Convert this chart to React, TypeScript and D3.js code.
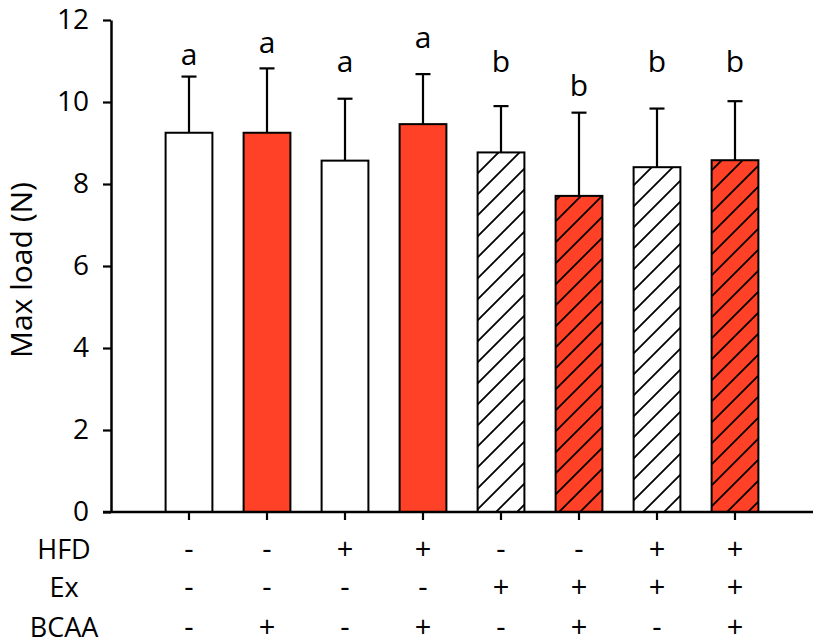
import React, { useRef, useEffect } from 'react';
import * as d3 from 'd3';

// groups (HFD / Ex / BCAA)
const hfd = ['-', '-', '+', '+', '-', '-', '+', '+'];
const ex = ['-', '-', '-', '-', '+', '+', '+', '+'];
const bcaa = ['-', '+', '-', '+', '-', '+', '-', '+'];
const groups = hfd.map((h, i) => `${h}${ex[i]}${bcaa[i]}`);

const means = [9.25, 9.25, 8.57, 9.46, 8.77, 7.71, 8.41, 8.58];
const sds = [1.37, 1.57, 1.51, 1.22, 1.13, 2.03, 1.43, 1.44];
const letters = ['a', 'a', 'a', 'a', 'b', 'b', 'b', 'b'];
const letterAt = [10.9, 11.2, 10.74, 11.32, 10.74, 10.15, 10.74, 10.74];
const yTicks = [0, 2, 4, 6, 8, 10, 12];
const rowNames = ['HFD', 'Ex', 'BCAA'];
const rows = [hfd, ex, bcaa];

const RED = '#ff4127';
const FONT = '"Open Sans", sans-serif';

const App = () => {
  const svgRef = useRef<SVGSVGElement>(null);

  useEffect(() => {
    const svg = d3.select(svgRef.current);
    svg.selectAll('*').remove();

    const x = d3.scaleBand().domain(groups).range([111, 813]).paddingInner(0.4).paddingOuter(0.7);
    const y = d3.scaleLinear().domain([0, 12]).range([512, 20]);

    const defs = svg.append('defs');
    const pat = defs.append('pattern')
      .attr('id', 'hatch')
      .attr('patternUnits', 'userSpaceOnUse')
      .attr('width', 21)
      .attr('height', 21);
    pat.append('path')
      .attr('d', 'M0,21L21,0M-5,5L5,-5M16,26L26,16')
      .attr('stroke', '#000')
      .attr('stroke-width', 1.8);

    const g = svg.append('g');

    // bars
    groups.forEach((k, i) => {
      const fill = bcaa[i] === '+' ? RED : '#fff';
      const x0 = x(k)!;
      const w = x.bandwidth();
      g.append('rect')
        .attr('x', x0).attr('y', y(means[i]))
        .attr('width', w).attr('height', y(0) - y(means[i]))
        .attr('fill', fill);
      if (ex[i] === '+') {
        g.append('rect')
          .attr('x', x0).attr('y', y(means[i]))
          .attr('width', w).attr('height', y(0) - y(means[i]))
          .attr('fill', 'url(#hatch)');
      }
      g.append('rect')
        .attr('x', x0).attr('y', y(means[i]))
        .attr('width', w).attr('height', y(0) - y(means[i]))
        .attr('fill', 'none')
        .attr('stroke', '#000')
        .attr('stroke-width', 2);

      const cx = x0 + w / 2;
      const top = y(means[i] + sds[i]);
      g.append('line')
        .attr('x1', cx).attr('x2', cx)
        .attr('y1', y(means[i])).attr('y2', top)
        .attr('stroke', '#000').attr('stroke-width', 2.2);
      g.append('line')
        .attr('x1', cx - 7.5).attr('x2', cx + 7.5)
        .attr('y1', top).attr('y2', top)
        .attr('stroke', '#000').attr('stroke-width', 2.2);

      g.append('text')
        .attr('x', cx).attr('y', y(letterAt[i]))
        .attr('text-anchor', 'middle')
        .style('font-family', FONT)
        .style('font-size', '30px')
        .text(letters[i]);
    });

    // y axis
    const yAxis = d3.axisLeft(y).tickValues(yTicks).tickSize(8).tickSizeOuter(0).tickPadding(14);
    const ya = svg.append('g').attr('transform', 'translate(111,0)').call(yAxis);
    ya.select('.domain').attr('stroke-width', 2.5);
    ya.selectAll('.tick line').attr('stroke-width', 2.2);
    ya.selectAll('.tick text')
      .style('font-family', FONT)
      .style('font-size', '28px')
      .attr('fill', '#000');

    // x axis
    const [r0, r1] = x.range();
    svg.append('line')
      .attr('x1', r0 - 8).attr('x2', r1)
      .attr('y1', y(0)).attr('y2', y(0))
      .attr('stroke', '#000').attr('stroke-width', 2.5);
    groups.forEach((k) => {
      const cx = x(k)! + x.bandwidth() / 2;
      svg.append('line')
        .attr('x1', cx).attr('x2', cx)
        .attr('y1', y(0)).attr('y2', y(0) + 8)
        .attr('stroke', '#000').attr('stroke-width', 2.2);
    });

    // condition rows
    const rowY = [559, 597, 637];
    rows.forEach((row, r) => {
      svg.append('text')
        .attr('x', 64).attr('y', rowY[r])
        .attr('text-anchor', 'middle')
        .style('font-family', FONT)
        .style('font-size', '27px')
        .text(rowNames[r]);
      row.forEach((s, i) => {
        svg.append('text')
          .attr('x', x(groups[i])! + x.bandwidth() / 2).attr('y', rowY[r])
          .attr('text-anchor', 'middle')
          .style('font-family', FONT)
          .style('font-size', '29px')
          .text(s);
      });
    });

    // y label
    svg.append('text')
      .attr('transform', 'translate(32,270) rotate(-90)')
      .attr('text-anchor', 'middle')
      .style('font-family', FONT)
      .style('font-size', '30px')
      .text('Max load (N)');
  }, []);

  return (
    <svg
      ref={svgRef}
      width={816}
      height={644}
      style={{ position: 'absolute', left: 0, top: 0, background: '#fff' }}
    />
  );
};

export default App;
